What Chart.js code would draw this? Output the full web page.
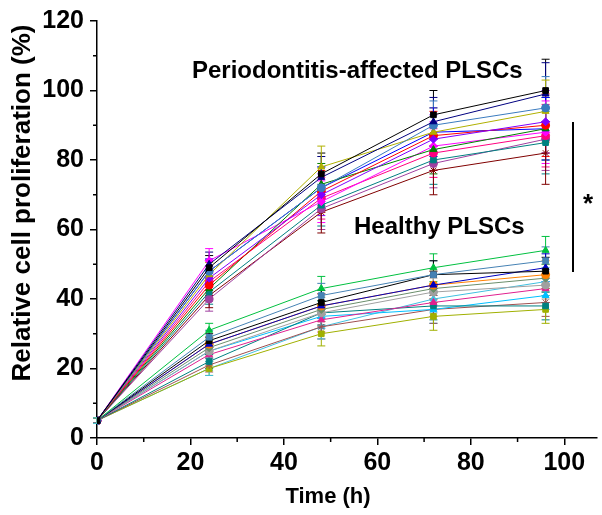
<!DOCTYPE html>
<html>
<head>
<meta charset="utf-8">
<script src="https://cdn.jsdelivr.net/npm/chart.js@4.4.1/dist/chart.umd.min.js"></script>
<style>
  html, body { margin: 0; padding: 0; background: #fff; }
  #wrap { width: 602px; height: 515px; position: relative; }
</style>
</head>
<body>
<div id="wrap"><canvas id="prolifChart"></canvas></div>
<script>
// time points (h)
const times = [0, 24, 48, 72, 96];
const xTicks = [0, 20, 40, 60, 80, 100];
const yTicks = [0, 20, 40, 60, 80, 100, 120];

// periodontitis-affected PLSCs, relative proliferation (%)
const perio1 = [5, 49, 76, 93, 100];
const perio2 = [5, 50, 75, 91, 99];
const perio3 = [5, 48, 72, 90, 95];
const perio4 = [5, 47, 78, 88, 94];
const perio5 = [5, 46, 70, 86, 91];
const perio6 = [5, 44, 71, 87, 90];
const perio7 = [5, 43, 73, 83, 89];
const perio8 = [5, 48, 72, 88, 89];
const perio9 = [5, 51, 68, 84, 88];
const perio10 = [5, 45, 69, 82, 87];
const perio11 = [5, 42, 67, 80, 85];
const perio12 = [5, 40, 66, 79, 86];
const perio13 = [5, 41, 65, 77, 82];
const perioErr = [0.8, 3.5, 6, 7, 9];

// healthy PLSCs
const healthy1 = [5, 31, 43, 49, 54];
const healthy2 = [5, 29, 41, 47, 51];
const healthy3 = [5, 28, 39, 47, 48];
const healthy4 = [5, 27, 38, 44, 49];
const healthy5 = [5, 27, 38, 44, 47];
const healthy6 = [5, 26, 37, 43, 46];
const healthy7 = [5, 25, 36, 42, 44];
const healthy8 = [5, 24, 34, 39, 43];
const healthy9 = [5, 22, 36, 38, 38];
const healthy10 = [5, 25, 35, 37, 41];
const healthy11 = [5, 21, 32, 37, 39];
const healthy12 = [5, 20, 30, 35, 37];
const healthy13 = [5, 20, 32, 40, 45];
const healthyErr = [0.8, 2, 3.5, 4, 4];

const perioSeries = [perio1, perio2, perio3, perio4, perio5, perio6, perio7, perio8, perio9, perio10, perio11, perio12, perio13];
const perioColors = ['#000000', '#000080', '#3a7bbf', '#b0b000', '#8000ff', '#ff0000', '#008000', '#0000ff', '#ff00ff', '#ff0080', '#008080', '#a040a0', '#800000'];
const perioShapes = ['rect', 'triangle', 'circle', 'triangle', 'rectRot', 'circle', 'triangle', 'triangle', 'rectRot', 'circle', 'rect', 'circle', 'star'];

const healthySeries = [healthy1, healthy2, healthy3, healthy4, healthy5, healthy6, healthy7, healthy8, healthy9, healthy10, healthy11, healthy12, healthy13];
const healthyColors = ['#00c040', '#4682b4', '#000000', '#0000c0', '#ff8000', '#6b8e6b', '#a0a0a0', '#e0208f', '#008080', '#00bfff', '#a05050', '#a0b000', '#40c0e0'];
const healthyShapes = ['triangle', 'rect', 'rect', 'triangle', 'circle', 'rectRot', 'circle', 'triangle', 'rect', 'triangle', 'star', 'rect', 'triangle'];

const FONT = "'Liberation Sans', Arial, sans-serif";

function makeSet(values, color, shape, err) {
    return {
        data: times.map((t, i) => ({ x: t, y: values[i] })),
        err: err,
        borderColor: color,
        backgroundColor: color,
        borderWidth: 1,
        pointStyle: shape,
        pointRadius: 4,
        pointBorderWidth: 1,
        tension: 0
    };
}

const datasets = [];
perioSeries.forEach((s, i) => datasets.push(makeSet(s, perioColors[i], perioShapes[i], perioErr)));
healthySeries.forEach((s, i) => datasets.push(makeSet(s, healthyColors[i], healthyShapes[i], healthyErr)));

// error bars, minor ticks and text labels
const extras = {
    id: 'extras',
    beforeDatasetsDraw(chart) {
        const ctx = chart.ctx;
        const ys = chart.scales.y;
        ctx.save();
        ctx.lineWidth = 1;
        chart.data.datasets.forEach((ds, di) => {
            const meta = chart.getDatasetMeta(di);
            ctx.strokeStyle = ds.borderColor;
            meta.data.forEach((pt, i) => {
                const v = ds.data[i].y;
                const e = ds.err[i];
                const top = ys.getPixelForValue(v + e);
                const bot = ys.getPixelForValue(v - e);
                ctx.beginPath();
                ctx.moveTo(pt.x, top); ctx.lineTo(pt.x, bot);
                ctx.moveTo(pt.x - 4, top); ctx.lineTo(pt.x + 4, top);
                ctx.moveTo(pt.x - 4, bot); ctx.lineTo(pt.x + 4, bot);
                ctx.stroke();
            });
        });
        ctx.restore();
    },
    afterDraw(chart) {
        const ctx = chart.ctx;
        const xs = chart.scales.x, ys = chart.scales.y;
        const area = chart.chartArea;
        ctx.save();
        ctx.strokeStyle = '#000';
        ctx.lineWidth = 1.5;
        ctx.beginPath();
        for (let v = 10; v < 107; v += 20) {
            const px = xs.getPixelForValue(v);
            ctx.moveTo(px, area.bottom); ctx.lineTo(px, area.bottom + 4);
        }
        for (let v = 10; v < 120; v += 20) {
            const py = ys.getPixelForValue(v);
            ctx.moveTo(area.left, py); ctx.lineTo(area.left - 4, py);
        }
        ctx.stroke();

        // significance bar
        ctx.lineWidth = 2;
        ctx.beginPath();
        ctx.moveTo(573, 122); ctx.lineTo(573, 272);
        ctx.stroke();

        ctx.fillStyle = '#000';
        ctx.font = 'bold 24px ' + FONT;
        ctx.textAlign = 'left';
        ctx.textBaseline = 'alphabetic';
        ctx.fillText('Periodontitis-affected PLSCs', 192, 78);
        ctx.fillText('Healthy PLSCs', 354, 234);
        ctx.font = 'bold 26px ' + FONT;
        ctx.textAlign = 'center';
        ctx.fillText('*', 588, 212);

        // axis titles
        ctx.font = 'bold 22px ' + FONT;
        ctx.textBaseline = 'middle';
        ctx.fillText('Time (h)', 328, 497);
        ctx.font = 'bold 26px ' + FONT;
        ctx.translate(23, 203);
        ctx.rotate(-Math.PI / 2);
        ctx.fillText('Relative cell proliferation (%)', 0, 0);
        ctx.restore();
    }
};

new Chart(document.getElementById('prolifChart'), {
    type: 'line',
    data: { datasets: datasets },
    plugins: [extras],
    options: {
        responsive: true,
        maintainAspectRatio: false,
        animation: false,
        layout: { padding: { top: 17, right: 2, left: 0, bottom: 0 } },
        plugins: { legend: { display: false }, tooltip: { enabled: false } },
        scales: {
            x: {
                type: 'linear',
                min: 0,
                max: 107,
                afterFit(scale) { scale.height = 77; },
                afterBuildTicks(scale) { scale.ticks = xTicks.map(v => ({ value: v })); },
                border: { color: '#000', width: 1.5 },
                grid: { drawOnChartArea: false, drawTicks: true, tickLength: 7, color: '#000', lineWidth: 1.5 },
                ticks: { color: '#000', padding: 3, maxRotation: 0, font: { family: FONT, size: 25, weight: 'bold' } }
            },
            y: {
                type: 'linear',
                min: 0,
                max: 120,
                afterFit(scale) { scale.width = 97; },
                afterBuildTicks(scale) { scale.ticks = yTicks.map(v => ({ value: v })); },
                border: { color: '#000', width: 1.5 },
                grid: { drawOnChartArea: false, drawTicks: true, tickLength: 7, color: '#000', lineWidth: 1.5 },
                ticks: { color: '#000', padding: 6, font: { family: FONT, size: 25, weight: 'bold' } }
            }
        }
    }
});
</script>
</body>
</html>
